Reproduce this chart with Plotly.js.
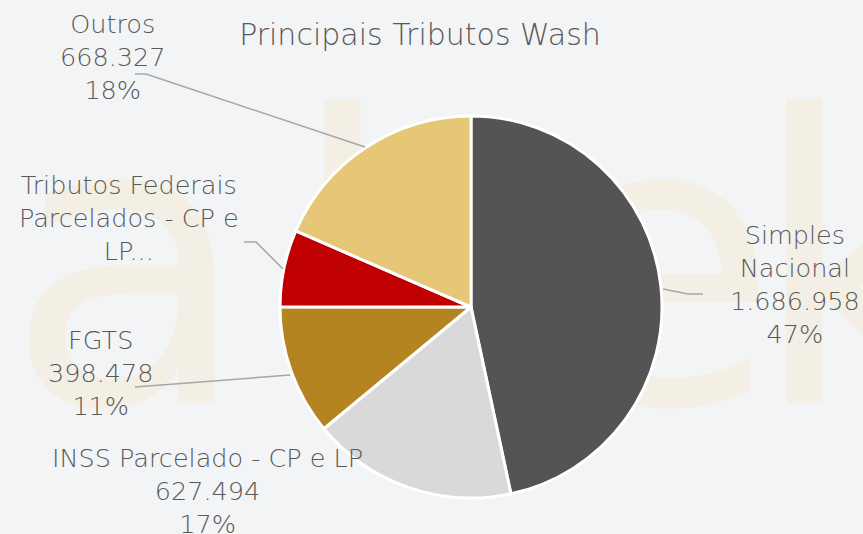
<!DOCTYPE html>
<html>
<head>
<meta charset="utf-8">
<script src="https://cdn.plot.ly/plotly-3.0.1.min.js"></script>
<style>html,body{margin:0;padding:0;background:#f3f4f6;}#chart{width:863px;height:534px;}</style>
</head>
<body>
<div id="chart"></div>
<script>
// ---- data ----
const categories = ["Simples Nacional", "INSS Parcelado - CP e LP", "FGTS", "Tributos Federais Parcelados - CP e LP", "Outros"];
const values = [1686958, 627494, 398478, 235000, 668327];
const labelNames = ["Simples<br>Nacional", "INSS Parcelado - CP e LP", "FGTS", "Tributos Federais<br>Parcelados - CP e<br>LP...", "Outros"];
const showValue = [true, true, true, false, true];
const colors = ["#545454", "#d9d9d9", "#b38420", "#c00000", "#e6c677"];
const chartTitle = "Principais Tributos Wash";

// ---- layout config (pixels in an 863x534 canvas) ----
const W = 863, H = 534;
const labelPos = [[795, 284], [207, 491], [100, 373], [129, 218], [113, 57]];
const leaders = [
  [[663, 289], [688, 294], [703, 294]],
  null,
  [[290, 375], [135, 387]],
  [[283, 269], [256, 242], [244, 242]],
  [[365, 147], [146, 74], [135, 74]]
];

function fmt(n) { return String(n).replace(/\B(?=(\d{3})+(?!\d))/g, "."); }
const total = values.reduce((a, b) => a + b, 0);

const FONT = "'DejaVu Sans', sans-serif";
const annotations = categories.map((c, i) => {
  let t = labelNames[i];
  if (showValue[i]) t += "<br>" + fmt(values[i]) + "<br>" + Math.round(values[i] / total * 100) + "%";
  return {
    text: t, xref: "paper", yref: "paper",
    x: labelPos[i][0] / W, y: 1 - labelPos[i][1] / H,
    xanchor: "center", yanchor: "middle", showarrow: false, align: "center",
    font: {family: FONT, size: 25.5, color: "#595959", weight: 200}
  };
});

const shapes = leaders.filter(l => l).map(pts => ({
  type: "path", xref: "paper", yref: "paper",
  path: pts.map((p, j) => (j ? "L" : "M") + (p[0] / W) + "," + (1 - p[1] / H)).join(" "),
  line: {color: "#a6a6a6", width: 1.5}
}));

// faint background watermark (an image, as in the reference)
const wmLetters = [["a", 5], ["l", 287], ["e", 533], ["k", 750]];
const wmSvg = '<svg xmlns="http://www.w3.org/2000/svg" width="863" height="534" viewBox="0 0 863 534">' +
  wmLetters.map(l => '<text x="' + l[1] + '" y="403" font-family="DejaVu Sans" font-size="400" fill="#f3efe5">' + l[0] + '</text>').join("") +
  '</svg>';
const images = [{
  source: "data:image/svg+xml;charset=utf-8," + encodeURIComponent(wmSvg),
  xref: "paper", yref: "paper", x: 0, y: 1, sizex: 1, sizey: 1,
  xanchor: "left", yanchor: "top", sizing: "stretch", layer: "below"
}];

const cx = 471, cy = 307, r = 191;
const data = [{
  type: "pie", labels: categories, values: values, sort: false,
  direction: "clockwise", rotation: 0,
  marker: {colors: colors, line: {color: "#ffffff", width: 3}},
  textinfo: "none", hoverinfo: "label+value+percent",
  domain: {x: [(cx - r) / W, (cx + r) / W], y: [(H - cy - r) / H, (H - cy + r) / H]}
}];

const layout = {
  width: W, height: H, margin: {l: 0, r: 0, t: 0, b: 0},
  paper_bgcolor: "#f3f4f6", plot_bgcolor: "#f3f4f6", showlegend: false,
  title: {text: chartTitle, x: 420 / W, xanchor: "center", y: 1 - 34 / H, yanchor: "middle",
          font: {family: FONT, size: 30, color: "#595959", weight: 200}},
  annotations: annotations, shapes: shapes, images: images
};
Plotly.newPlot("chart", data, layout, {displayModeBar: false});
</script>
</body>
</html>
